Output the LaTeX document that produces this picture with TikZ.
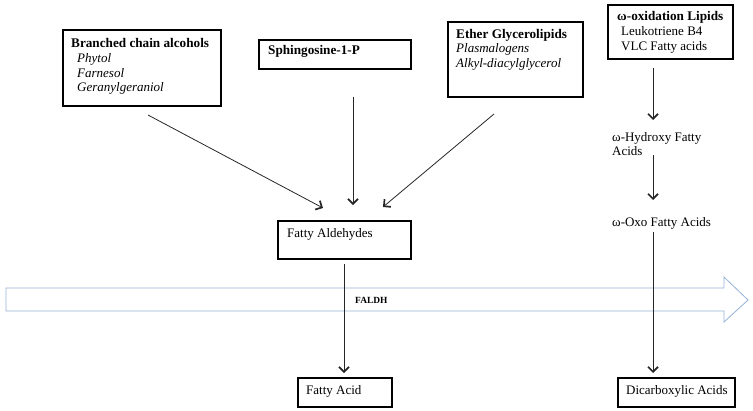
\documentclass[tikz,border=0pt]{standalone}
\usepackage{fontspec}
\setmainfont{Liberation Serif}
\usetikzlibrary{arrows.meta}
\definecolor{arrowblue}{HTML}{95B3D7}
\tikzset{
  box/.style={draw=black, line width=1.6pt, inner sep=0pt, anchor=north west},
  txt/.style={inner sep=0pt, anchor=base west, font=\fontsize{13}{15}\selectfont},
  btxt/.style={txt, font=\fontsize{13.2}{15}\selectfont\bfseries},
  itxt/.style={txt, font=\fontsize{13}{15}\selectfont\itshape},
  conn/.style={draw=black!85, line width=0.8pt, -{Straight Barb[length=5pt,width=10pt,line width=1.7pt]}},
}
\begin{document}
\begin{tikzpicture}[x=1pt,y=-1pt]
\useasboundingbox (0,0) rectangle (753,410);
% boxes
\node[box, minimum width=158pt, minimum height=76pt] (b1) at (62,29) {};
\node[box, minimum width=152pt, minimum height=29pt] (b2) at (258,39) {};
\node[box, minimum width=135pt, minimum height=75pt] (b3) at (447,21) {};
\node[box, minimum width=125pt, minimum height=54pt] (b4) at (607,4) {};
\node[box, minimum width=133pt, minimum height=38pt] (fald) at (277,220) {};
\node[box, minimum width=94pt, minimum height=29pt] (fa) at (297,377) {};
\node[box, minimum width=117pt, minimum height=29pt] (dca) at (617,377) {};
% texts
\node[btxt] (t11) at (71,47) {Branched chain alcohols};
\node[itxt] (t12) at (77,62) {Phytol};
\node[itxt] (t13) at (77,77) {Farnesol};
\node[itxt] (t14) at (77,91) {Geranylgeraniol};
\node[btxt] (t21) at (268,54) {Sphingosine-1-P};
\node[btxt] (t31) at (456,38) {Ether Glycerolipids};
\node[itxt] (t32) at (456,52) {Plasmalogens};
\node[itxt] (t33) at (456,67) {Alkyl-diacylglycerol};
\node[btxt] (t41) at (617,20) {ω-oxidation Lipids};
\node[txt] (t42) at (621,35) {Leukotriene B4};
\node[txt] (t43) at (621,50) {VLC Fatty acids};
\node[txt] (oh1) at (612,141) {ω-Hydroxy Fatty};
\node[txt] (oh2) at (612,155) {Acids};
\node[txt] (oxo) at (612,226) {ω-Oxo Fatty Acids};
\node[txt] (t5) at (287,237) {Fatty Aldehydes};
\node[txt] (t6) at (306,394) {Fatty Acid};
\node[txt] (t7) at (626,394) {Dicarboxylic Acids};
% big arrow
\draw[arrowblue, line width=0.8pt, fill=white]
  (6,288) -- (724,288) -- (724,277) -- (748,300) -- (724,322) -- (724,311) -- (6,311) -- cycle;
\node[inner sep=0pt, anchor=base west, font=\fontsize{9.4}{11}\selectfont\bfseries] (faldh) at (355,303) {FALDH};
% connector end points
\coordinate (s1) at (148,115);
\coordinate (e1) at (323,208);
\coordinate (s2) at (353,97);
\coordinate (e2) at (353,205);
\coordinate (s3) at (494,114);
\coordinate (e3) at (383,207);
\coordinate (s4) at (344,264);
\coordinate (e4) at (344,373);
\coordinate (r1s) at (653,68);
\coordinate (r1e) at (653,120);
\coordinate (r2s) at (653,155);
\coordinate (r2e) at (653,200);
\coordinate (r3s) at (653,232);
\coordinate (r3e) at (653,373);
\draw[conn] (s1) -- (e1);
\draw[conn] (s2) -- (e2);
\draw[conn] (s3) -- (e3);
\draw[conn] (s4) -- (e4);
\draw[conn] (r1s) -- (r1e);
\draw[conn] (r2s) -- (r2e);
\draw[conn] (r3s) -- (r3e);
\end{tikzpicture}
\end{document}
